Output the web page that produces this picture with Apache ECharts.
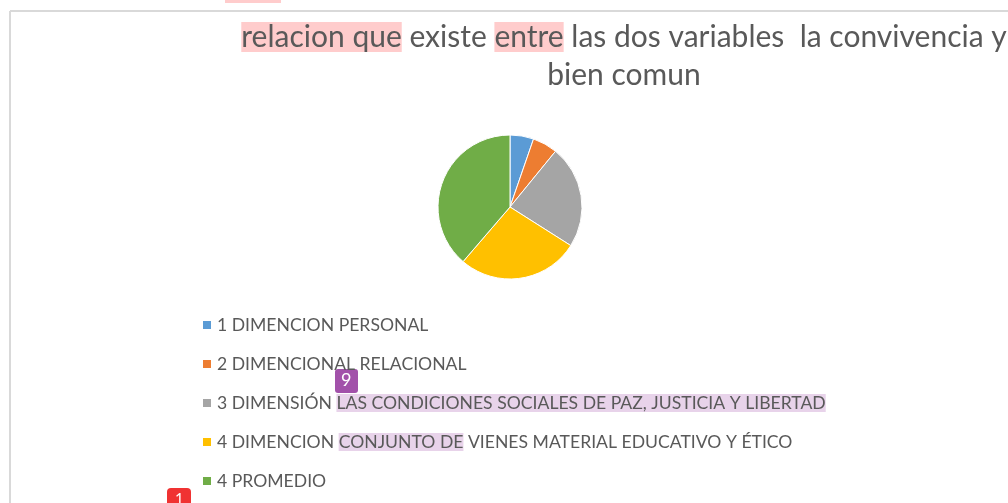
<!DOCTYPE html>
<html>
<head>
<meta charset="utf-8">
<script src="https://cdn.jsdelivr.net/npm/echarts@6/dist/echarts.min.js"></script>
<style>
  html, body { margin: 0; padding: 0; background: #fff; }
  #main { width: 1008px; height: 503px; }
</style>
</head>
<body>
<div id="main"></div>
<script>
// datos del grafico (en porcentaje aprox.)
var categorias = [
  "1 DIMENCION PERSONAL",
  "2 DIMENCIONAL RELACIONAL",
  "3 DIMENSIÓN LAS CONDICIONES SOCIALES DE PAZ, JUSTICIA Y LIBERTAD",
  "4 DIMENCION CONJUNTO DE VIENES MATERIAL EDUCATIVO Y ÉTICO",
  "4 PROMEDIO"
];
var valores = [5.3, 5.6, 23.1, 27.3, 38.7];
var colores = ["#5b9bd5", "#ed7d31", "#a5a5a5", "#ffc000", "#70ad47"];

var font = "Lato";

var myChart = echarts.init(document.getElementById("main"));

var option = {
  backgroundColor: "#fff",
  color: colores,
  animation: false,
  title: {
    text: "{hl|relacion que} existe {hl|entre} las dos variables  la convivencia y\nbien comun",
    left: 619,
    top: 13,
    textAlign: "center",
    textStyle: {
      fontFamily: font,
      fontWeight: "normal",
      fontSize: 30,
      color: "#595959",
      lineHeight: 38,
      align: "center",
      rich: {
        hl: {
          fontFamily: font,
          fontSize: 30,
          color: "#595959",
          lineHeight: 34,
          backgroundColor: "#ffcccc"
        }
      }
    }
  },
  legend: {
    orient: "vertical",
    left: 196,
    top: 310,
    height: 200,
    itemWidth: 10,
    itemHeight: 10,
    itemGap: 19,
    icon: "rect",
    data: categorias,
    formatter: function (name) {
      // resaltado morado de la captura
      if (name.indexOf("LAS CONDICIONES") > 0) {
        return "3 DIMENSIÓN {hl|LAS CONDICIONES SOCIALES DE PAZ, JUSTICIA Y LIBERTAD}";
      }
      if (name.indexOf("CONJUNTO DE") > 0) {
        return "4 DIMENCION {hl|CONJUNTO DE} VIENES MATERIAL EDUCATIVO Y ÉTICO";
      }
      return name;
    },
    textStyle: {
      fontFamily: font,
      fontSize: 17.6,
      color: "#595959",
      lineHeight: 20,
      rich: {
        hl: {
          fontFamily: font,
          fontSize: 17.6,
          color: "#595959",
          lineHeight: 20,
          backgroundColor: "#e8d3ea"
        }
      }
    }
  },
  series: [
    {
      type: "pie",
      center: [510, 207],
      radius: 72,
      startAngle: 90,
      clockwise: true,
      label: { show: false },
      labelLine: { show: false },
      itemStyle: { borderColor: "#fff", borderWidth: 1 },
      data: categorias.map(function (c, i) {
        return { name: c, value: valores[i] };
      })
    }
  ],
  graphic: [
    // marco del area del grafico
    { type: "line", shape: { x1: 10, y1: 11, x2: 1008, y2: 11 }, style: { stroke: "#d9d9d9", lineWidth: 2 } },
    { type: "line", shape: { x1: 10, y1: 11, x2: 10, y2: 503 }, style: { stroke: "#d9d9d9", lineWidth: 2 } },
    // resaltado rosa arriba
    { type: "rect", shape: { x: 225, y: 0, width: 56, height: 3 }, style: { fill: "#ffcccc" } },
    // etiquetas de comentario
    {
      type: "group", left: 335, top: 369,
      children: [
        { type: "rect", shape: { x: 0, y: 0, width: 23, height: 24, r: 3 }, style: { fill: "#a251aa" } },
        { type: "text", left: 6, top: 2, style: { text: "9", fill: "#fff", fontSize: 18, fontFamily: font } }
      ]
    },
    {
      type: "group", left: 167, top: 488,
      children: [
        { type: "rect", shape: { x: 0, y: 0, width: 24, height: 24, r: 4 }, style: { fill: "#f03232" } },
        { type: "text", left: 8, top: 4, style: { text: "1", fill: "#fff", fontSize: 15, fontFamily: font } }
      ]
    }
  ]
};

myChart.setOption(option);
</script>
</body>
</html>
